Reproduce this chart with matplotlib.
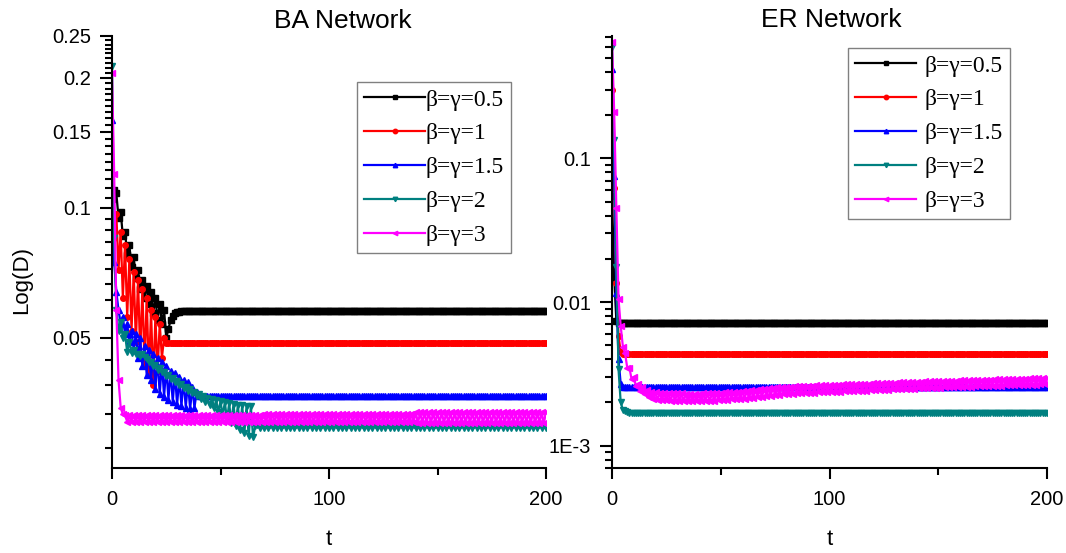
import numpy as np
import matplotlib
matplotlib.use("Agg")
import matplotlib.pyplot as plt
from matplotlib.ticker import FixedLocator, LogLocator, NullFormatter

plt.rcParams['font.family'] = ['Liberation Sans', 'DejaVu Sans']

# Time steps
t = np.arange(0, 201)

labels = ["β=γ=0.5", "β=γ=1", "β=γ=1.5", "β=γ=2", "β=γ=3"]
colors = ["#000000", "#ff0000", "#0000ff", "#008080", "#ff00ff"]
markers = ["s", "o", "^", "v", "<"]

# BA network, values
ba_black = [0.105, 0.110, 0.108, 0.095, 0.098, 0.086, 0.088, 0.078, 0.082, 0.073,
            0.077, 0.069, 0.072, 0.065, 0.068, 0.062, 0.066, 0.060, 0.064, 0.057,
            0.062, 0.055, 0.060, 0.054, 0.058, 0.050, 0.0525, 0.0550, 0.0562, 0.0570,
            0.0573, 0.0575, 0.0576, 0.0577, 0.0578] + [0.0578] * 166
ba_red = [0.090, 0.085, 0.097, 0.072, 0.088, 0.062, 0.082, 0.056, 0.076, 0.052,
          0.071, 0.049, 0.068, 0.046, 0.065, 0.043, 0.062, 0.041, 0.058, 0.039,
          0.056, 0.042, 0.054, 0.045, 0.050, 0.0488] + [0.0488] * 175
ba_blue = [0.160, 0.075, 0.064, 0.058, 0.054, 0.056, 0.051, 0.054, 0.049, 0.052,
           0.047, 0.051, 0.045, 0.050, 0.043, 0.048, 0.041, 0.047, 0.040, 0.046,
           0.038, 0.045, 0.037, 0.044, 0.0365, 0.043, 0.036, 0.042, 0.0355, 0.0415,
           0.035, 0.0405, 0.0348, 0.040, 0.0345, 0.0395, 0.0342, 0.0385, 0.0345, 0.0375,
           0.0366] + [0.0366] * 160
ba_teal = [0.213, 0.085, 0.058, 0.052, 0.0545, 0.050, 0.051, 0.0465, 0.049, 0.0462,
           0.047, 0.0458, 0.046, 0.0455, 0.0458, 0.0452, 0.0448, 0.0440, 0.0440, 0.0430,
           0.0433, 0.0422, 0.0426, 0.0416, 0.0418, 0.0409, 0.0411, 0.0402, 0.0404, 0.0395,
           0.0398, 0.0389, 0.0392, 0.0383, 0.0386, 0.0377, 0.0380, 0.0372, 0.0375, 0.0366,
           0.0370, 0.0361, 0.0366, 0.0355, 0.0363, 0.0350, 0.0361, 0.0344, 0.0359, 0.0337,
           0.0357, 0.0330, 0.0355, 0.0324, 0.0353, 0.0318, 0.0352, 0.0312, 0.0350, 0.0306,
           0.0349, 0.0301, 0.0348, 0.0296, 0.0347, 0.0295, 0.0312] + [0.0314, 0.0310] * 67
ba_mag = ([0.205, 0.120, 0.058, 0.040, 0.0345, 0.0333]
          + [0.0331, 0.0320] * 32 + [0.0334, 0.0319] * 35
          + [0.0337, 0.0317] * 30 + [0.0337])

# ER network
er_black = [0.055, 0.015, 0.0074, 0.00713] + [0.00711] * 197
er_red = [0.30, 0.062, 0.0135, 0.0058, 0.0045, 0.00436] + [0.00433] * 195
er_blue = [0.42, 0.075, 0.0115, 0.0040, 0.0027, 0.00258] + [0.00255] * 195
er_teal = [0.60, 0.135, 0.0176, 0.0034, 0.0020, 0.00178, 0.00174, 0.00171,
           0.00170] + [0.00169] * 192
er_mag_start = [0.65, 0.21, 0.045, 0.0105, 0.0068, 0.0049, 0.0044, 0.0035, 0.0035, 0.0029,
                0.0030, 0.0026, 0.0027, 0.00240, 0.00255, 0.00228, 0.00245, 0.00220,
                0.00238, 0.00212]
# upper points (even t, 20..200) and lower points (odd t, 21..199) of the zigzag
er_mag_hi = [0.00235, 0.00234, 0.00233, 0.00232, 0.00232, 0.00231, 0.00231, 0.00230, 0.00230, 0.00230,
             0.00230, 0.00231, 0.00231, 0.00232, 0.00233, 0.00234, 0.00235, 0.00236, 0.00237, 0.00238,
             0.00240, 0.00241, 0.00243, 0.00245, 0.00247, 0.00249, 0.00251, 0.00253, 0.00255, 0.00256,
             0.00257, 0.00258, 0.00259, 0.00260, 0.00261, 0.00262, 0.00262, 0.00263, 0.00263, 0.00264,
             0.00264, 0.00265, 0.00266, 0.00267, 0.00267, 0.00268, 0.00269, 0.00270, 0.00270, 0.00271,
             0.00272, 0.00272, 0.00273, 0.00274, 0.00275, 0.00275, 0.00276, 0.00277, 0.00277, 0.00278,
             0.00279, 0.00279, 0.00280, 0.00281, 0.00281, 0.00282, 0.00283, 0.00283, 0.00284, 0.00284,
             0.00285, 0.00286, 0.00286, 0.00287, 0.00287, 0.00288, 0.00289, 0.00289, 0.00290, 0.00290,
             0.00291, 0.00291, 0.00292, 0.00292, 0.00293, 0.00293, 0.00294, 0.00294, 0.00295, 0.00295,
             0.00296]
er_mag_lo = [0.00209, 0.00208, 0.00207, 0.00206, 0.00206, 0.00205, 0.00205, 0.00205, 0.00204, 0.00204,
             0.00204, 0.00205, 0.00205, 0.00206, 0.00207, 0.00208, 0.00209, 0.00210, 0.00211, 0.00212,
             0.00213, 0.00214, 0.00216, 0.00218, 0.00220, 0.00222, 0.00223, 0.00225, 0.00227, 0.00228,
             0.00229, 0.00230, 0.00231, 0.00232, 0.00233, 0.00234, 0.00234, 0.00235, 0.00235, 0.00236,
             0.00236, 0.00237, 0.00238, 0.00239, 0.00239, 0.00240, 0.00241, 0.00242, 0.00242, 0.00243,
             0.00244, 0.00244, 0.00245, 0.00246, 0.00247, 0.00247, 0.00248, 0.00249, 0.00249, 0.00250,
             0.00251, 0.00251, 0.00252, 0.00253, 0.00253, 0.00254, 0.00255, 0.00255, 0.00256, 0.00256,
             0.00257, 0.00258, 0.00258, 0.00259, 0.00259, 0.00260, 0.00261, 0.00261, 0.00262, 0.00262,
             0.00263, 0.00263, 0.00264, 0.00264, 0.00265, 0.00265, 0.00266, 0.00266, 0.00267, 0.00267]

er_mag = list(er_mag_start)
for hi, lo in zip(er_mag_hi, er_mag_lo):
    er_mag += [hi, lo]
er_mag.append(er_mag_hi[-1])

ba_series = [ba_black, ba_red, ba_blue, ba_teal, ba_mag]
er_series = [er_black, er_red, er_blue, er_teal, er_mag]

W, H = 1066, 553
fig = plt.figure(figsize=(W / 100, H / 100), dpi=100)
ax1 = fig.add_axes([112 / W, (H - 468) / H, 434 / W, 432 / H])
ax2 = fig.add_axes([612 / W, (H - 468) / H, 435 / W, 432 / H])

for ax, series in [(ax1, ba_series), (ax2, er_series)]:
    for y, c, m, lab in zip(series, colors, markers, labels):
        ax.plot(t, y, color=c, marker=m, markersize=4, lw=1.6, label=lab)
    ax.set_yscale("log")
    ax.set_xlim(0, 200)
    for s in ["top", "right"]:
        ax.spines[s].set_visible(False)
    for s in ["left", "bottom"]:
        ax.spines[s].set_linewidth(1.5)
    ax.set_xticks([0, 100, 200])
    ax.set_xticklabels(["0", "100", "200"])
    ax.xaxis.set_minor_locator(FixedLocator([50, 150]))
    ax.tick_params(axis="x", which="major", direction="out", length=8, width=1.5,
                   labelsize=14.5, pad=8)
    ax.tick_params(axis="x", which="minor", direction="out", length=5, width=1.5)
    ax.tick_params(axis="y", which="major", direction="out", length=9, width=1.5,
                   labelsize=14.5, pad=6)
    ax.tick_params(axis="y", which="minor", direction="out", length=5, width=1.5)
    ax.set_xlabel("t", fontsize=16, labelpad=14)

# BA axis: linear-spaced ticks on a log scale
ax1.set_ylim(0.025, 0.25)
ax1.set_yticks([0.05, 0.1, 0.15, 0.2, 0.25])
ax1.set_yticklabels(["0.05", "0.1", "0.15", "0.2", "0.25"])
minor = [v for v in np.arange(1, 46) * 0.05 / 9 if v > 0.0249 and (round(v / 0.05 * 9) % 9) != 0]
ax1.yaxis.set_minor_locator(FixedLocator(minor))
ax1.yaxis.set_minor_formatter(NullFormatter())

ax2.set_ylim(7e-4, 0.71)
ax2.set_yticks([0.001, 0.01, 0.1])
ax2.set_yticklabels(["1E-3", "0.01", "0.1"])
ax2.yaxis.set_minor_locator(LogLocator(base=10, subs=np.arange(2, 10)))
ax2.yaxis.set_minor_formatter(NullFormatter())

fig.text(343 / W, 1 - 21 / H, "BA Network", fontsize=19, ha="center", va="center")
fig.text(831 / W, 1 - 20 / H, "ER Network", fontsize=19, ha="center", va="center")
fig.text(22 / W, 1 - 280 / H, "Log(D)", fontsize=16, rotation=90, ha="center", va="center")

leg_kw = dict(loc="upper left", bbox_transform=fig.transFigure, borderaxespad=0,
              prop={"family": "Liberation Serif", "size": 17}, handlelength=2.6,
              labelspacing=0.52, borderpad=0.3, fancybox=False, framealpha=1,
              edgecolor="#808080", markerscale=0.8)
l1 = ax1.legend(bbox_to_anchor=(357 / W, 1 - 82 / H), handletextpad=0.0, **leg_kw)
l2 = ax2.legend(bbox_to_anchor=(848 / W, 1 - 48 / H), handletextpad=0.35, **leg_kw)
for leg in (l1, l2):
    leg.get_frame().set_linewidth(1.0)

fig.savefig("out.png", dpi=100)
